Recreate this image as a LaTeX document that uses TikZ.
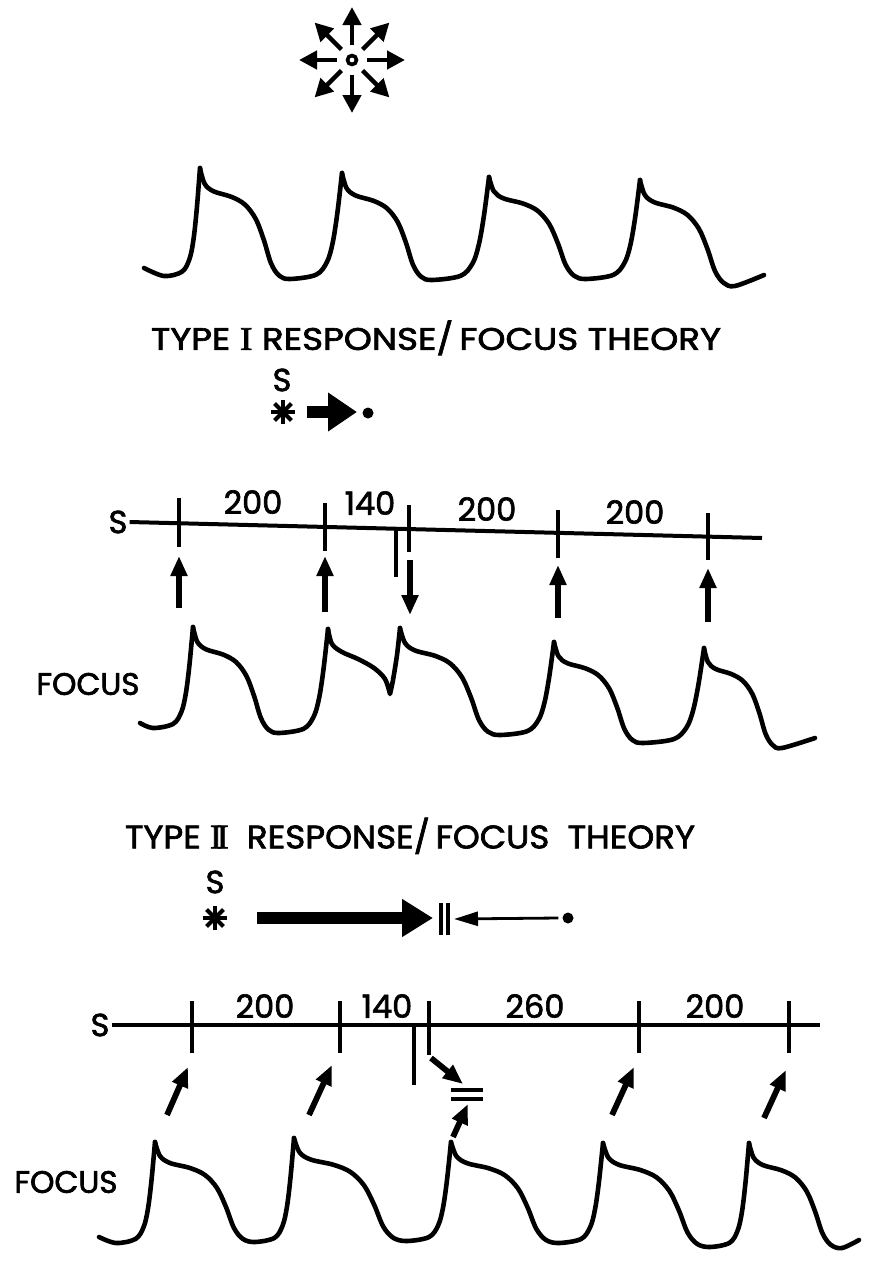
\documentclass[tikz,border=0pt]{standalone}
\usepackage{fontspec}
\newfontfamily\fut[FakeBold=2]{Poppins}
\newfontfamily\rom[FakeBold=2]{Liberation Serif}
\usetikzlibrary{arrows.meta,calc}

% one pulse: peak (#1,#2), trough (#3,#4), next peak (#5,#6)
\newcommand\pulse[6]{%
 \draw[wave] plot[smooth,tension=0.55] coordinates {
 (#1,#2)
 ({#1+.05*(#3-#1)},{#2+.14*(#4-#2)})
 ({#1+.15*(#3-#1)},{#2+.21*(#4-#2)})
 ({#1+.35*(#3-#1)},{#2+.26*(#4-#2)})
 ({#1+.50*(#3-#1)},{#2+.33*(#4-#2)})
 ({#1+.62*(#3-#1)},{#2+.46*(#4-#2)})
 ({#1+.71*(#3-#1)},{#2+.65*(#4-#2)})
 ({#1+.79*(#3-#1)},{#2+.86*(#4-#2)})
 ({#1+.88*(#3-#1)},{#2+.97*(#4-#2)})
 (#3,#4)
 ({#3+.5*(#5-#3)},{#4-.04*(#4-#6)})
 ({#3+.71*(#5-#3)},{#4-.16*(#4-#6)})
 ({#3+.82*(#5-#3)},{#4-.34*(#4-#6)})
 ({#3+.91*(#5-#3)},{#4-.62*(#4-#6)})
 (#5,#6)};}
% start: free end (#1,#2), trough (#3,#4), peak (#5,#6)
\newcommand\pstart[6]{%
 \draw[wave] plot[smooth,tension=0.55] coordinates {
 (#1,#2) (#3,#4)
 ({#3+.5*(#5-#3)},{#4-.04*(#4-#6)})
 ({#3+.71*(#5-#3)},{#4-.16*(#4-#6)})
 ({#3+.82*(#5-#3)},{#4-.34*(#4-#6)})
 ({#3+.91*(#5-#3)},{#4-.62*(#4-#6)})
 (#5,#6)};}
% end: peak (#1,#2), trough (#3,#4), free end (#5,#6)
\newcommand\pend[6]{%
 \draw[wave] plot[smooth,tension=0.55] coordinates {
 (#1,#2)
 ({#1+.05*(#3-#1)},{#2+.14*(#4-#2)})
 ({#1+.15*(#3-#1)},{#2+.21*(#4-#2)})
 ({#1+.35*(#3-#1)},{#2+.26*(#4-#2)})
 ({#1+.50*(#3-#1)},{#2+.33*(#4-#2)})
 ({#1+.62*(#3-#1)},{#2+.46*(#4-#2)})
 ({#1+.71*(#3-#1)},{#2+.65*(#4-#2)})
 ({#1+.79*(#3-#1)},{#2+.86*(#4-#2)})
 ({#1+.88*(#3-#1)},{#2+.97*(#4-#2)})
 (#3,#4) (#5,#6)};}
% asterisk burst at named coordinate #1, radius #2
\newcommand\burst[2]{%
 \foreach \a in {0,45,90,135}
  \draw[line width=4.2pt] ($(#1)+(\a:#2)$) -- ($(#1)+(\a+180:#2)$);}

\begin{document}
\begin{tikzpicture}[x=1pt,y=-1pt,
  wave/.style={line width=4.6pt,line cap=round,line join=round},
  tickl/.style={line width=3.2pt},
  axisl/.style={line width=4pt},
  vt/.style={line width=5.8pt,-{Triangle[length=20pt,width=16pt]}},
  lab/.style={font=\fut\fontsize{32}{32}\selectfont,inner sep=0pt},
  focus/.style={font=\fut\fontsize{31}{31}\selectfont,inner sep=0pt},
  dotn/.style={circle,fill,inner sep=0pt,minimum size=11pt},
  titlen/.style={inner sep=0pt},
 ]
\useasboundingbox (0,0) rectangle (875,1261);
\fill[white] (0,0) rectangle (875,1261);

% ---------- top radiating symbol ----------
\coordinate (c0) at (352,60);
\foreach \a in {0,45,...,315}
  \draw[line width=4.4pt,-{Triangle[length=18pt,width=18pt]}] ($(c0)+(\a:15)$) -- ($(c0)+(\a:53)$);
\draw[line width=3.6pt] (c0) circle[radius=4.5pt];

% ---------- top wave ----------
\pstart{144}{268}{164}{276}{200}{168}
\pulse{200}{168}{290}{279}{342}{173}
\pulse{342}{173}{432}{280}{489}{177}
\pulse{489}{177}{586}{279}{640}{180}
\pend{640}{180}{735}{286}{764}{275}

% ---------- TYPE I ----------
\node[titlen] (t1) at (436,339) {\resizebox{570pt}{22pt}{\fut TYPE \scalebox{1.06}{\rom I} RESPONSE\smash{/}\,FOCUS THEORY}};
\node[lab] (s1) at (282,380) {S};
\coordinate (st1) at (283,412);
\burst{st1}{12}
\node[dotn] (d1) at (368,413) {};
\coordinate (a1s) at (307,412);
\coordinate (a1e) at (357,412);
\draw[line width=12pt,-{Triangle[length=29pt,width=37pt]}] (a1s) -- (a1e);

\node[lab] (S1) at (118,522) {S};
\draw[axisl] (S1.east) ++(2,0) coordinate (L1a) -- (762,538) coordinate (L1b);
\draw[tickl] (179,498) -- (179,547);
\draw[tickl] (325,503) -- (325,551);
\draw[tickl] (409,505) -- (409,552);
\draw[tickl] (396,530) -- (396,577);
\draw[tickl] (558,510) -- (558,558);
\draw[tickl] (708,513) -- (708,560);
\node[lab] (n11) at (253,502) {200};
\node[lab] (n12) at (370,503) {140};
\node[lab] (n13) at (487,509) {200};
\node[lab] (n14) at (635,512) {200};

\coordinate (u1s) at (179,608); \coordinate (u1e) at (179,556);
\coordinate (u2s) at (325,612); \coordinate (u2e) at (325,556);
\coordinate (u3s) at (410,560); \coordinate (u3e) at (410,615);
\coordinate (u4s) at (558,618); \coordinate (u4e) at (558,565);
\coordinate (u5s) at (708,622); \coordinate (u5e) at (708,568);
\foreach \i in {1,...,5} \draw[vt] (u\i s) -- (u\i e);

\node[focus] (f1) at (88,684) {FOCUS};
\pstart{140}{723}{153}{728}{193}{627}
\pulse{193}{627}{279}{733}{328}{629}
\draw[wave] plot[smooth,tension=0.55] coordinates {(328,629) (332,644) (342,652) (358,659) (374,668) (385,679) (390,694)}
  -- plot[smooth,tension=0.5] coordinates {(390,694) (393,680) (397,655) (400,628)};
\pulse{400}{628}{500}{735}{554}{642}
\pulse{554}{642}{643}{743}{704}{648}
\pend{704}{648}{782}{748}{815}{738}

% ---------- TYPE II ----------
\node[titlen] (t2) at (410,837) {\resizebox{570pt}{23pt}{\fut TYPE \scalebox{1.06}{\rom I\kern-1.5pt I}\ \ RESPONSE\smash{/}\,FOCUS\ \ THEORY}};
\node[lab] (s2) at (215,882) {S};
\coordinate (st2) at (215,918);
\burst{st2}{12}
\coordinate (b2s) at (257,918);
\coordinate (b2e) at (433,918);
\draw[line width=12pt,-{Triangle[length=31pt,width=36pt]}] (b2s) -- (b2e);
\draw[line width=3.4pt] (441,903) -- (441,935);
\draw[line width=3.4pt] (448,903) -- (448,935);
\node[dotn] (d2) at (568,918) {};
\coordinate (th2) at (454,919);
\draw[line width=2.8pt,-{Triangle[length=24pt,width=14pt]}] (d2.west) ++(-4,0) -- (th2);

\node[lab] (S2) at (100,1025) {S};
\draw[axisl] (S2.east) ++(2,0) coordinate (L2a) -- (820,1025) coordinate (L2b);
\draw[tickl] (192,1001) -- (192,1053);
\draw[tickl] (340,1001) -- (340,1053);
\draw[tickl] (429,1001) -- (429,1055);
\draw[tickl] (414,1027) -- (414,1085);
\draw[tickl] (639,1001) -- (639,1053);
\draw[tickl] (789,1001) -- (789,1053);
\node[lab] (n21) at (265,1006) {200};
\node[lab] (n22) at (387,1006) {140};
\node[lab] (n23) at (535,1006) {260};
\node[lab] (n24) at (715,1006) {200};

\coordinate (v1s) at (167,1115); \coordinate (v1e) at (188,1067);
\coordinate (v2s) at (309,1115); \coordinate (v2e) at (332,1065);
\coordinate (v3s) at (431,1058); \coordinate (v3e) at (463,1084);
\coordinate (v4s) at (453,1137); \coordinate (v4e) at (468,1104);
\coordinate (v5s) at (612,1115); \coordinate (v5e) at (634,1067);
\coordinate (v6s) at (764,1118); \coordinate (v6e) at (786,1070);
\foreach \i in {1,...,6} \draw[vt] (v\i s) -- (v\i e);
\draw[line width=4pt] (451,1090) -- (483,1090);
\draw[line width=4pt] (451,1099) -- (483,1099);

\node[focus] (f2) at (66,1182) {FOCUS};
\pstart{99}{1237}{116}{1243}{155}{1142}
\pulse{155}{1142}{255}{1242}{294}{1138}
\pulse{294}{1138}{407}{1241}{451}{1142}
\pulse{451}{1142}{559}{1243}{603}{1143}
\pulse{603}{1143}{710}{1247}{749}{1143}
\pend{749}{1143}{842}{1248}{859}{1240}
\end{tikzpicture}
\end{document}
